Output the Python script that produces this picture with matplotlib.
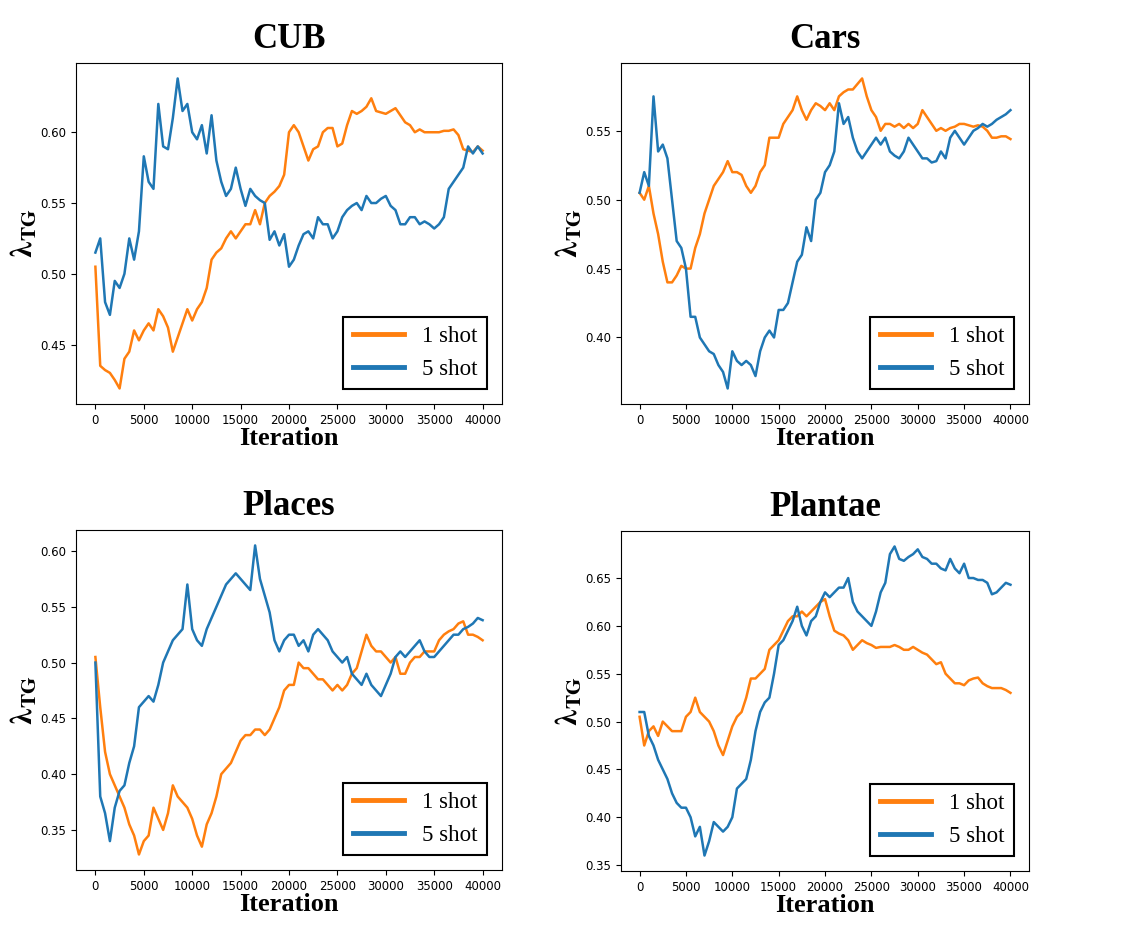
import matplotlib
matplotlib.use("Agg")
import matplotlib.pyplot as plt
import numpy as np

plt.rcParams['mathtext.fontset'] = 'stix'

# iterations (every 500 steps)
iterations = np.arange(0, 40001, 500)

# CUB
cub_1shot = [0.505, 0.435, 0.432, 0.430, 0.425, 0.419, 0.440, 0.445, 0.460, 0.453,
             0.460, 0.465, 0.460, 0.475, 0.470, 0.462, 0.445, 0.455, 0.465, 0.475,
             0.467, 0.475, 0.480, 0.490, 0.510, 0.515, 0.518, 0.525, 0.530, 0.525,
             0.530, 0.535, 0.535, 0.545, 0.535, 0.550, 0.555, 0.558, 0.562, 0.570,
             0.600, 0.605, 0.600, 0.590, 0.580, 0.588, 0.590, 0.600, 0.603, 0.603,
             0.590, 0.592, 0.605, 0.615, 0.613, 0.615, 0.618, 0.624, 0.615, 0.614,
             0.613, 0.615, 0.617, 0.612, 0.607, 0.605, 0.600, 0.602, 0.600, 0.600,
             0.600, 0.600, 0.601, 0.601, 0.602, 0.598, 0.588, 0.587, 0.586, 0.590,
             0.587]
cub_5shot = [0.515, 0.525, 0.480, 0.471, 0.495, 0.490, 0.500, 0.525, 0.510, 0.530,
             0.583, 0.565, 0.560, 0.620, 0.590, 0.588, 0.610, 0.638, 0.615, 0.620,
             0.600, 0.595, 0.605, 0.585, 0.612, 0.580, 0.565, 0.555, 0.560, 0.575,
             0.560, 0.548, 0.560, 0.555, 0.552, 0.550, 0.524, 0.530, 0.520, 0.528,
             0.505, 0.510, 0.520, 0.528, 0.530, 0.525, 0.540, 0.535, 0.535, 0.525,
             0.530, 0.540, 0.545, 0.548, 0.550, 0.545, 0.555, 0.550, 0.550, 0.553,
             0.555, 0.548, 0.545, 0.535, 0.535, 0.540, 0.540, 0.535, 0.537, 0.535,
             0.532, 0.535, 0.540, 0.560, 0.565, 0.570, 0.575, 0.590, 0.585, 0.590,
             0.585]

# Cars
cars_1shot = [0.505, 0.500, 0.510, 0.490, 0.475, 0.455, 0.440, 0.440, 0.445, 0.452,
              0.450, 0.450, 0.465, 0.475, 0.490, 0.500, 0.510, 0.515, 0.520, 0.528,
              0.520, 0.520, 0.518, 0.510, 0.505, 0.510, 0.520, 0.525, 0.545, 0.545,
              0.545, 0.555, 0.560, 0.565, 0.575, 0.565, 0.558, 0.565, 0.570, 0.568,
              0.565, 0.570, 0.565, 0.575, 0.578, 0.580, 0.580, 0.584, 0.588, 0.575,
              0.565, 0.560, 0.550, 0.555, 0.555, 0.553, 0.555, 0.552, 0.555, 0.552,
              0.555, 0.565, 0.560, 0.555, 0.550, 0.552, 0.550, 0.552, 0.553, 0.555,
              0.555, 0.554, 0.553, 0.554, 0.553, 0.550, 0.545, 0.545, 0.546, 0.546,
              0.544]
cars_5shot = [0.505, 0.520, 0.510, 0.575, 0.535, 0.540, 0.530, 0.500, 0.470, 0.465,
              0.450, 0.415, 0.415, 0.400, 0.395, 0.390, 0.388, 0.380, 0.375, 0.363,
              0.390, 0.383, 0.380, 0.383, 0.380, 0.372, 0.390, 0.400, 0.405, 0.400,
              0.420, 0.420, 0.425, 0.440, 0.455, 0.460, 0.480, 0.470, 0.500, 0.505,
              0.520, 0.525, 0.535, 0.570, 0.555, 0.560, 0.545, 0.535, 0.530, 0.535,
              0.540, 0.545, 0.540, 0.545, 0.535, 0.532, 0.530, 0.535, 0.545, 0.540,
              0.535, 0.530, 0.530, 0.527, 0.528, 0.535, 0.530, 0.545, 0.550, 0.545,
              0.540, 0.545, 0.550, 0.552, 0.555, 0.553, 0.555, 0.558, 0.560, 0.562,
              0.565]

# Places
places_1shot = [0.505, 0.460, 0.420, 0.400, 0.390, 0.380, 0.370, 0.355, 0.345, 0.328,
                0.340, 0.345, 0.370, 0.360, 0.350, 0.365, 0.390, 0.380, 0.375, 0.370,
                0.360, 0.345, 0.335, 0.355, 0.365, 0.380, 0.400, 0.405, 0.410, 0.420,
                0.430, 0.435, 0.435, 0.440, 0.440, 0.435, 0.440, 0.450, 0.460, 0.475,
                0.480, 0.480, 0.500, 0.495, 0.495, 0.490, 0.485, 0.485, 0.480, 0.475,
                0.480, 0.475, 0.480, 0.490, 0.495, 0.510, 0.525, 0.515, 0.510, 0.510,
                0.505, 0.500, 0.505, 0.490, 0.490, 0.500, 0.505, 0.505, 0.510, 0.510,
                0.510, 0.520, 0.525, 0.528, 0.530, 0.535, 0.537, 0.525, 0.525, 0.523,
                0.520]
places_5shot = [0.500, 0.380, 0.365, 0.340, 0.370, 0.385, 0.390, 0.410, 0.425, 0.460,
                0.465, 0.470, 0.465, 0.480, 0.500, 0.510, 0.520, 0.525, 0.530, 0.570,
                0.530, 0.520, 0.515, 0.530, 0.540, 0.550, 0.560, 0.570, 0.575, 0.580,
                0.575, 0.570, 0.565, 0.605, 0.575, 0.560, 0.545, 0.520, 0.510, 0.520,
                0.525, 0.525, 0.515, 0.520, 0.510, 0.525, 0.530, 0.525, 0.520, 0.510,
                0.505, 0.500, 0.505, 0.490, 0.485, 0.480, 0.490, 0.480, 0.475, 0.470,
                0.480, 0.490, 0.505, 0.510, 0.505, 0.510, 0.515, 0.520, 0.510, 0.505,
                0.505, 0.510, 0.515, 0.520, 0.525, 0.525, 0.530, 0.532, 0.535, 0.540,
                0.538]

# Plantae
plantae_1shot = [0.505, 0.475, 0.490, 0.495, 0.485, 0.500, 0.495, 0.490, 0.490, 0.490,
                 0.505, 0.510, 0.525, 0.510, 0.505, 0.500, 0.490, 0.475, 0.465, 0.480,
                 0.495, 0.505, 0.510, 0.525, 0.545, 0.545, 0.550, 0.555, 0.575, 0.580,
                 0.585, 0.595, 0.605, 0.610, 0.610, 0.615, 0.610, 0.615, 0.620, 0.625,
                 0.628, 0.610, 0.595, 0.592, 0.590, 0.585, 0.575, 0.580, 0.585, 0.582,
                 0.580, 0.577, 0.578, 0.578, 0.578, 0.580, 0.578, 0.575, 0.575, 0.578,
                 0.575, 0.572, 0.570, 0.565, 0.560, 0.562, 0.550, 0.545, 0.540, 0.540,
                 0.538, 0.543, 0.545, 0.546, 0.540, 0.537, 0.535, 0.535, 0.535, 0.533,
                 0.530]
plantae_5shot = [0.510, 0.510, 0.485, 0.475, 0.460, 0.450, 0.440, 0.425, 0.415, 0.410,
                 0.410, 0.400, 0.380, 0.390, 0.360, 0.375, 0.395, 0.390, 0.385, 0.390,
                 0.400, 0.430, 0.435, 0.440, 0.460, 0.490, 0.510, 0.520, 0.525, 0.550,
                 0.580, 0.585, 0.595, 0.605, 0.620, 0.600, 0.590, 0.605, 0.610, 0.625,
                 0.635, 0.630, 0.635, 0.640, 0.640, 0.650, 0.625, 0.615, 0.610, 0.605,
                 0.600, 0.615, 0.635, 0.645, 0.675, 0.683, 0.670, 0.668, 0.672, 0.675,
                 0.680, 0.672, 0.670, 0.665, 0.665, 0.660, 0.658, 0.670, 0.660, 0.655,
                 0.665, 0.650, 0.650, 0.648, 0.648, 0.645, 0.633, 0.635, 0.640, 0.645,
                 0.643]

titles = ['CUB', 'Cars', 'Places', 'Plantae']
series_1shot = [cub_1shot, cars_1shot, places_1shot, plantae_1shot]
series_5shot = [cub_5shot, cars_5shot, places_5shot, plantae_5shot]

rects = [[0.0664, 0.5707, 0.372, 0.3624],
         [0.5424, 0.5707, 0.3563, 0.3624],
         [0.0664, 0.0755, 0.372, 0.3613],
         [0.5424, 0.0744, 0.3563, 0.3613]]

serif = 'Liberation Serif'

fig = plt.figure(figsize=(11.45, 9.41), dpi=100)
for title, y1, y5, rect in zip(titles, series_1shot, series_5shot, rects):
    ax = fig.add_axes(rect)
    ax.plot(iterations, y1, color='#ff7f0e', lw=1.8, label='1 shot')
    ax.plot(iterations, y5, color='#1f77b4', lw=1.8, label='5 shot')
    ax.set_title(title, fontsize=25, fontweight='bold', family=serif, pad=11)
    ax.set_xlabel('Iteration', fontsize=19, fontweight='bold', family=serif, labelpad=0)
    ax.set_ylabel(r'$\boldsymbol{\lambda}_{\mathbf{TG}}$', fontsize=22, labelpad=2)
    ax.set_xticks([0, 5000, 10000, 15000, 20000, 25000, 30000, 35000, 40000])
    ax.tick_params(labelsize=8.5)
    leg = ax.legend(loc='lower right', prop={'family': serif, 'size': 16.5},
                    fancybox=False, edgecolor='black', framealpha=1,
                    handlelength=2.25, borderaxespad=0.65)
    leg.get_frame().set_linewidth(1.5)
    for line in leg.get_lines():
        line.set_linewidth(3.5)

plt.savefig('out.png', dpi=100)
